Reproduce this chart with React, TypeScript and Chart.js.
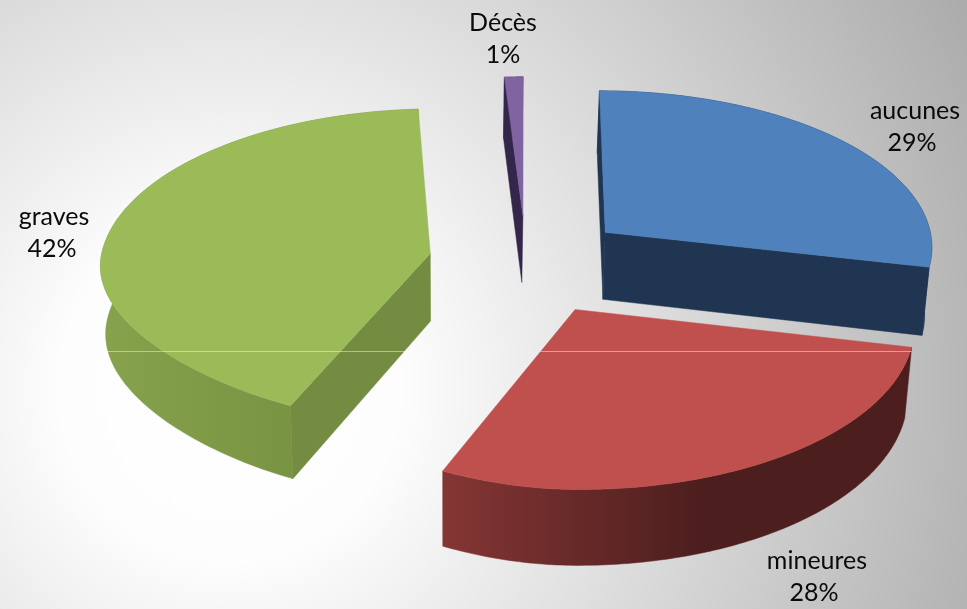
import React, { useEffect, useRef } from "react";
import { Chart, registerables } from "chart.js";

Chart.register(...registerables);

const categories = ["aucunes", "mineures", "graves", "Décès"];
const values = [28.6, 28.4, 42, 1];
const explode = [226, 241, 215, 220];
const topColors = ["#4f81bd", "#c0504d", "#9bbb59", "#8064a2"];
const faceColors = ["#1f3552", "#4d1e1e", "#748c41", "#33264a"];
const wallFrom = ["#1f3552", "#843634", "#86a24c", "#33264a"];
const wallTo = ["#1f3552", "#4d1e1e", "#6f8a3c", "#33264a"];
const wallStops = [1, 0.56, 1, 1];
const labelAnchors = [
  [915, 127],
  [817, 577],
  [54, 233],
  [503, 39],
];
const percentShift = [-3, -3, -2, 0];
const drawOrder = [3, 0, 2, 1];

const view = {
  cx: 526, cy: 262, k: 0.47, p: 0.00024, px: 0.00024,
  radius: 335, radiusX: 330, warp: 0.15,
  depth: 68, shrink: 0.985, pivot: 450,
};

function project(u: number, v: number, h: number) {
  const w = 1 / (1 - view.p * v);
  let x = view.cx + u / (1 - view.px * v);
  const y = view.cy + view.k * v * w + h * view.depth * w;
  if (h) x = view.pivot + (x - view.pivot) * view.shrink;
  return [x, y];
}

function fillPoly(ctx: CanvasRenderingContext2D, pts: number[][], fill: string | CanvasGradient) {
  ctx.beginPath();
  pts.forEach((p, i) => (i ? ctx.lineTo(p[0], p[1]) : ctx.moveTo(p[0], p[1])));
  ctx.closePath();
  ctx.fillStyle = fill;
  ctx.fill();
  ctx.strokeStyle = fill;
  ctx.lineWidth = 0.5;
  ctx.stroke();
}

const pie3d = {
  id: "pie3d",
  beforeDatasetDraw(chart: any) {
    const ctx: CanvasRenderingContext2D = chart.ctx;
    const arcs = chart.getDatasetMeta(0).data;
    ctx.save();
    for (const i of drawOrder) {
      const el = arcs[i];
      const norm = view.radius / el.outerRadius;
      const mid = (el.startAngle + el.endAngle) / 2;
      const disp = ((el.options.offset || 0) / 4) * norm;
      const ou = Math.cos(mid) * disp;
      const ov = Math.sin(mid) * disp;
      const rim = (h: number) => {
        const out: number[][] = [];
        const n = 120;
        for (let s = 0; s <= n; s++) {
          const a = el.startAngle + ((el.endAngle - el.startAngle) * s) / n;
          const lu = Math.cos(a) * view.radiusX;
          const lv = Math.sin(a) * view.radius;
          const side = lv > 0 ? (lv * lv) / (view.radius * view.radius) : 0;
          const bend = view.warp * Math.max(0, -lu) * side;
          out.push(project(ou + lu + bend, ov + lv, h));
        }
        return out;
      };
      const top = rim(0);
      const bottom = rim(1);
      const apexT = project(ou, ov, 0);
      const apexB = project(ou, ov, 1);
      const midT = top[60];
      const g = ctx.createLinearGradient(Math.min(...bottom.map((p) => p[0])), 0, Math.max(...bottom.map((p) => p[0])), 0);
      g.addColorStop(0, wallFrom[i]);
      g.addColorStop(wallStops[i], wallTo[i]);
      if (wallStops[i] < 1) g.addColorStop(1, wallTo[i]);
      fillPoly(ctx, [...top, ...bottom.slice().reverse()], g);
      for (const [p, q] of [
        [top[0], bottom[0]],
        [top[120], bottom[120]],
      ]) {
        const side = (p[0] - apexT[0]) * (midT[1] - apexT[1]) - (p[1] - apexT[1]) * (midT[0] - apexT[0]);
        const below = (p[0] - apexT[0]) * (apexB[1] - apexT[1]) - (p[1] - apexT[1]) * (apexB[0] - apexT[0]);
        if (side * below < 0) fillPoly(ctx, [apexT, p, q, apexB], faceColors[i]);
      }
      fillPoly(ctx, [apexT, ...top], topColors[i]);
    }
    ctx.globalCompositeOperation = "source-atop";
    ctx.fillStyle = "rgba(255,255,255,0.45)";
    ctx.fillRect(0, 351, chart.width, 1);
    ctx.globalCompositeOperation = "source-over";
    const total = values.reduce((a, b) => a + b, 0);
    ctx.fillStyle = "#0a0a0a";
    ctx.font = "25px Lato";
    ctx.textAlign = "center";
    ctx.textBaseline = "middle";
    categories.forEach((name, i) => {
      ctx.fillText(name, labelAnchors[i][0], labelAnchors[i][1] - 16);
      ctx.fillText(Math.round((values[i] / total) * 100) + "%", labelAnchors[i][0] + percentShift[i], labelAnchors[i][1] + 16);
    });
    ctx.restore();
    return false;
  },
};

export default function App() {
  const ref = useRef<HTMLCanvasElement>(null);
  useEffect(() => {
    const chart = new Chart(ref.current!, {
      type: "pie",
      data: {
        labels: categories,
        datasets: [{ data: values, backgroundColor: topColors, offset: explode, borderWidth: 0 }],
      },
      options: {
        animation: false,
        responsive: false,
        events: [],
        layout: { padding: 0 },
        plugins: { legend: { display: false }, tooltip: { enabled: false } },
      },
      plugins: [pie3d],
    } as any);
    return () => chart.destroy();
  }, []);
  return (
    <div
      style={{
        position: "absolute",
        left: 0,
        top: 0,
        width: 967,
        height: 609,
        overflow: "hidden",
        background: "radial-gradient(circle at 230px 390px, #ffffff 0px, #fdfdfd 170px, #a8a8a8 860px)",
      }}
    >
      <canvas ref={ref} width={967} height={609} style={{ display: "block" }} />
    </div>
  );
}
